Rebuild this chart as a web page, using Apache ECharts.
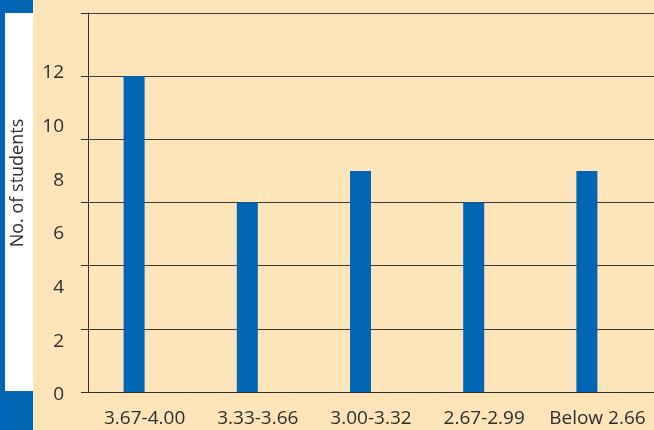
<!DOCTYPE html>
<html>
<head>
<meta charset="utf-8">
<script src="https://cdn.jsdelivr.net/npm/echarts@6/dist/echarts.min.js"></script>
<style>
  html, body { margin: 0; padding: 0; }
  #main { width: 654px; height: 430px; }
</style>
</head>
<body>
<div id="main"></div>
<script>
  // GPA bands and student counts
  var categories = ['3.67-4.00', '3.33-3.66', '3.00-3.32', '2.67-2.99', 'Below 2.66'];
  var students = [12, 7.2, 8.4, 7.2, 8.4];
  var yLabels = [0, 2, 4, 6, 8, 10, 12];

  var font = '"Open Sans", Lato, sans-serif';
  var ink = '#2e2e2e';
  var blue = '#0066b3';

  var chart = echarts.init(document.getElementById('main'));

  var option = {
    backgroundColor: '#fde4b9',
    animation: false,
    graphic: [
      { type: 'rect', shape: { x: 0, y: 0, width: 33, height: 430 }, style: { fill: blue }, z: -1 },
      { type: 'rect', shape: { x: 5, y: 13, width: 28, height: 378 }, style: { fill: '#ffffff' }, z: -1 },
      {
        type: 'text', x: 18, y: 183, rotation: Math.PI / 2,
        style: { text: 'No. of students', fill: ink, font: '18px ' + font, align: 'center', verticalAlign: 'middle' }
      }
    ],
    grid: [
      { left: 88, right: 0, top: 13, bottom: 38 },
      // second grid only to place the y labels where the picture puts them
      { left: 88, right: 0, top: 73, bottom: 35 }
    ],
    xAxis: [
      {
        type: 'category',
        gridIndex: 0,
        data: categories,
        axisLine: { lineStyle: { color: ink, width: 1 } },
        axisTick: { length: 7, lineStyle: { color: ink } },
        axisLabel: { color: ink, fontSize: 19, fontFamily: font, margin: 17, interval: 0 }
      },
      { type: 'value', gridIndex: 1, show: false }
    ],
    yAxis: [
      {
        type: 'value',
        gridIndex: 0,
        min: 0, max: 14.4, interval: 2.4,
        axisLine: { show: true, lineStyle: { color: ink, width: 1 } },
        axisTick: { show: true, length: 7, lineStyle: { color: ink } },
        axisLabel: { show: false },
        splitLine: { show: true, lineStyle: { color: '#3a3a3a', width: 1 } }
      },
      {
        type: 'value',
        gridIndex: 1,
        min: yLabels[0], max: yLabels[yLabels.length - 1], interval: 2,
        axisLine: { show: false },
        axisTick: { show: false },
        splitLine: { show: false },
        axisLabel: { color: ink, fontSize: 19, fontFamily: font, margin: 24 }
      }
    ],
    series: [
      {
        name: 'Students',
        type: 'bar',
        xAxisIndex: 0, yAxisIndex: 0,
        barWidth: 21,
        barGap: 0,
        itemStyle: { color: blue },
        data: students
      },
      {
        name: 'spacer',
        type: 'bar',
        xAxisIndex: 0, yAxisIndex: 0,
        barWidth: 21,
        silent: true,
        data: []
      }
    ]
  };

  chart.setOption(option);
</script>
</body>
</html>
